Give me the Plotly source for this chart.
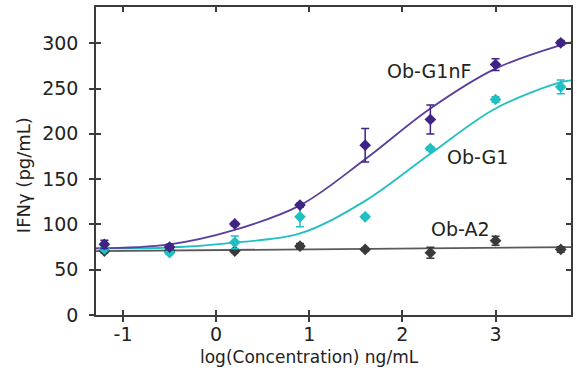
import plotly.graph_objects as go

# ---- data ----
log_conc = [-1.2, -0.5, 0.2, 0.9, 1.6, 2.3, 3.0, 3.7]

g1nf_y   = [78, 75, 100.5, 121.3, 187.5, 215.8, 276.5, 300.4]
g1nf_err = [4.5, 3, 2, 2, 18.5, 16, 6.5, 2.5]

g1_y     = [73, 68.7, 80.2, 108.4, 108.4, 183.8, 237.9, 251.8]
g1_err   = [2, 2, 7, 11, 2, 2, 3, 7.5]

a2_y     = [70.6, 71, 70.6, 76, 72.4, 68.7, 82, 72.4]
a2_err   = [2, 2, 1.5, 3, 1.5, 6, 5, 3]

# fitted curves
fit_x      = [-1.29, -0.5, 0.2, 0.9, 1.6, 2.3, 3.0, 3.7, 3.81]
g1nf_fit   = [73.5, 78, 94, 121, 172, 228, 272, 298, 301]
g1_fit     = [73.5, 74.5, 80, 90, 126, 178, 228, 257, 259]
a2_fit_x   = [-1.29, 3.81]
a2_fit     = [70.5, 75]

x_ticks = [-1, 0, 1, 2, 3]
x_tick_text = ["-1", "0", "1", "2", "3"]
y_ticks = [0, 50, 100, 150, 200, 250, 300]
x_range = [-1.29, 3.81]
y_range = [0, 340]

PURPLE = "#3f2385"
PURPLE_LINE = "#5a3d9e"
CYAN = "#22bfc2"
GRAY = "#3a3a3a"
GRAY_LINE = "#5a5a5a"
AX = "#3c3c3c"
FONT = "DejaVu Sans"

fig = go.Figure()

# fitted curves
fig.add_trace(go.Scatter(x=a2_fit_x, y=a2_fit, mode="lines",
                         line=dict(color=GRAY_LINE, width=1.8), showlegend=False))
fig.add_trace(go.Scatter(x=fit_x, y=g1_fit, mode="lines", line_shape="spline",
                         line=dict(color=CYAN, width=1.8), showlegend=False))
fig.add_trace(go.Scatter(x=fit_x, y=g1nf_fit, mode="lines", line_shape="spline",
                         line=dict(color=PURPLE_LINE, width=1.8), showlegend=False))

def pts(y, err, color):
    return go.Scatter(x=log_conc, y=y, mode="markers",
                      marker=dict(symbol="diamond", size=9, color=color),
                      error_y=dict(type="data", array=err, color=color,
                                   thickness=1.5, width=4),
                      showlegend=False)

fig.add_trace(pts(a2_y, a2_err, GRAY))
fig.add_trace(pts(g1_y, g1_err, CYAN))
fig.add_trace(pts(g1nf_y, g1nf_err, PURPLE))

# invisible trace to host the overlay (inside-tick) axes
fig.add_trace(go.Scatter(x=[None], y=[None], xaxis="x2", yaxis="y2",
                         showlegend=False, hoverinfo="skip"))

LBL = dict(family=FONT, size=19, color="#222")
fig.add_annotation(x=2.28, y=269, text="Ob-G1nF", showarrow=False, font=LBL)
fig.add_annotation(x=2.81, y=174, text="Ob-G1", showarrow=False, font=LBL)
fig.add_annotation(x=2.62, y=95, text="Ob-A2", showarrow=False, font=LBL)

# axis titles as annotations (positioned as in reference)
fig.add_annotation(xref="paper", yref="paper", x=0.449, y=-0.135,
                   yanchor="middle", text="log(Concentration) ng/mL",
                   showarrow=False, font=dict(family=FONT, size=17, color="#222"))
fig.add_annotation(xref="paper", yref="paper", x=-0.151, y=0.455,
                   xanchor="center", yanchor="middle", text="IFNγ (pg/mL)",
                   textangle=-90,
                   showarrow=False, font=dict(family=FONT, size=18, color="#222"))

common = dict(showgrid=False, zeroline=False, linecolor=AX, linewidth=1.5,
              tickcolor=AX, tickwidth=1.5)

fig.update_layout(
    width=577, height=370,
    margin=dict(l=96, r=4, t=7, b=55),
    paper_bgcolor="white", plot_bgcolor="white",
    font=dict(family=FONT, size=19, color="#222"),
    xaxis=dict(range=x_range, tickvals=x_ticks, ticktext=x_tick_text,
               ticks="outside", ticklen=5,
               showline=True, mirror=True, ticklabelstandoff=-4, **common),
    yaxis=dict(range=y_range, tickvals=y_ticks, ticks="outside", ticklen=5,
               showline=True, mirror=True, ticklabelstandoff=7, **common),
    xaxis2=dict(range=x_range, tickvals=x_ticks, overlaying="x", anchor="y2",
                ticks="inside", ticklen=5, mirror="ticks", showline=False,
                showticklabels=False, side="bottom", **common),
    yaxis2=dict(range=y_range, tickvals=y_ticks, overlaying="y", anchor="x2",
                ticks="inside", ticklen=5, mirror="ticks", showline=False,
                showticklabels=False, side="left", **common),
)

fig.write_html("out.html")
